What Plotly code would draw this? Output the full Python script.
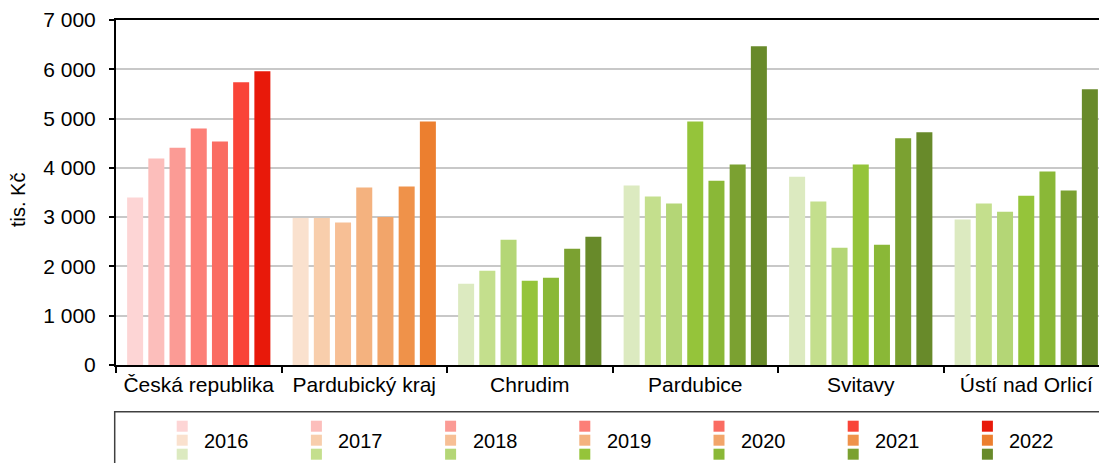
import plotly.graph_objects as go

categories = ["Česká republika", "Pardubický kraj", "Chrudim", "Pardubice", "Svitavy", "Ústí nad Orlicí"]
years = ["2016", "2017", "2018", "2019", "2020", "2021", "2022"]

v2016 = [3400, 2985, 1650, 3640, 3820, 2950]
v2017 = [4190, 2985, 1910, 3420, 3315, 3275]
v2018 = [4410, 2890, 2540, 3275, 2380, 3110]
v2019 = [4800, 3600, 1710, 4940, 4070, 3435]
v2020 = [4535, 3005, 1770, 3740, 2440, 3925]
v2021 = [5735, 3620, 2360, 4070, 4600, 3540]
v2022 = [5960, 4940, 2600, 6465, 4720, 5595]
values = [v2016, v2017, v2018, v2019, v2020, v2021, v2022]

red = ["#FDD5D5", "#FCBEBB", "#FB9B95", "#FC7F77", "#FA6C62", "#F94438", "#E8190A"]
orange = ["#FAE1CE", "#F8CEAC", "#F7BF95", "#F4B27F", "#F2A56A", "#EF924A", "#EC7F2F"]
green = ["#DCEAC0", "#C4DF8D", "#B4D676", "#95C43A", "#8AB837", "#7BA131", "#688A2A"]
family = ["red", "orange", "green", "green", "green", "green"]
palettes = {"red": red, "orange": orange, "green": green}

FONT = "Liberation Sans, Arial, sans-serif"

W, H = 1099, 463
ML, MR, MT, MB = 116, 0, 20, 98
PW = W - ML - MR
PH = H - MT - MB
GROUP_PX = 165.5


def px(x):
    return (x - ML) / PW


def py(y):
    return (H - MB - y) / PH


fig = go.Figure()
for i, yr in enumerate(years):
    fig.add_trace(go.Bar(
        x=categories,
        y=values[i],
        name=yr,
        marker=dict(color=[palettes[f][i] for f in family], line=dict(width=0)),
        showlegend=False,
    ))

shapes = []
annotations = []

# legend box
shapes.append(dict(type="rect", xref="paper", yref="paper",
                   x0=px(114.7), x1=px(1110), y0=py(411.7), y1=py(475),
                   line=dict(color="#404040", width=1.5), fillcolor="rgba(0,0,0,0)"))
# legend entries
for i, yr in enumerate(years):
    sx = 176.7 + i * 134.2
    for j, fam in enumerate(["red", "orange", "green"]):
        top = 420.7 + j * 14
        shapes.append(dict(type="rect", xref="paper", yref="paper",
                           x0=px(sx), x1=px(sx + 11), y0=py(top), y1=py(top + 11),
                           line=dict(width=0), fillcolor=palettes[fam][i]))
    annotations.append(dict(text=yr, xref="paper", yref="paper",
                            x=px(sx + 25.5), y=py(440.5), xanchor="left", yanchor="middle",
                            showarrow=False, font=dict(family=FONT, size=20, color="black")))

# y-axis title
annotations.append(dict(text="tis. Kč", xref="paper", yref="paper",
                        x=px(18), y=py(200), textangle=-90, xanchor="center", yanchor="middle",
                        showarrow=False, font=dict(family=FONT, size=20, color="black")))

fig.update_layout(
    width=W, height=H,
    margin=dict(l=ML, r=MR, t=MT, b=MB, pad=0, autoexpand=False),
    paper_bgcolor="white", plot_bgcolor="white",
    barmode="group", bargap=0.103, bargroupgap=0.245,
    separators=", ",
    font=dict(family=FONT, size=20, color="black"),
    shapes=shapes, annotations=annotations,
)
fig.update_xaxes(
    type="category", range=[-0.5, -0.5 + PW / GROUP_PX], automargin=False,
    showline=True, linecolor="black", linewidth=2, mirror=True,
    ticks="outside", tickson="boundaries", ticklen=6, tickcolor="black", tickwidth=1.5,
    showgrid=False, tickfont=dict(family=FONT, size=21, color="black"),
)
fig.update_yaxes(
    range=[0, 7000], dtick=1000, tickformat=",d", automargin=False,
    showline=True, linecolor="black", linewidth=2,
    ticks="outside", ticklen=5, tickcolor="black", tickwidth=1.5,
    ticklabelstandoff=9,
    showgrid=True, gridcolor="#C8C8C8", gridwidth=1.5, zeroline=False,
    tickfont=dict(family=FONT, size=21, color="black"),
)

fig.write_html(
    "out.html",
    config={"displayModeBar": False},
    post_script="document.body.style.margin='0';document.body.style.overflow='hidden';",
)
